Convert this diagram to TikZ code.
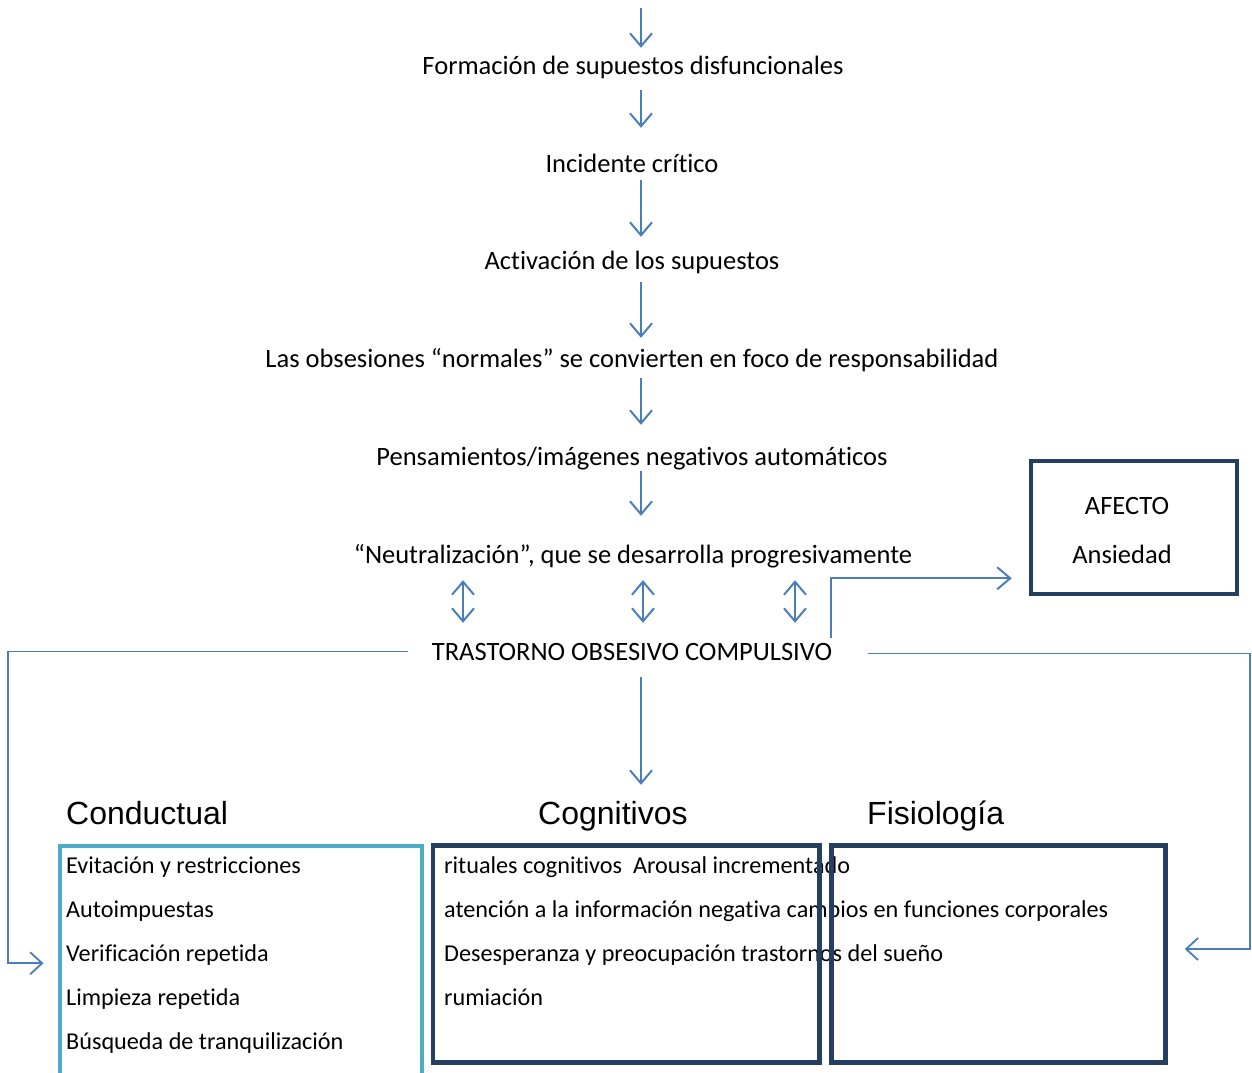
\documentclass[tikz,border=0pt]{standalone}
\usepackage{fontspec}
\setmainfont{Carlito}[Ligatures=NoCommon]
\newfontfamily\headfont{Liberation Sans}
\usetikzlibrary{arrows.meta,calc}
\definecolor{arrblue}{HTML}{4A7EBB}
\definecolor{navy}{HTML}{243F60}
\definecolor{cyanb}{HTML}{4BACC6}
\begin{document}
\begin{tikzpicture}[x=1pt,y=-1pt,
  every node/.style={inner sep=0pt, font=\fontsize{26.5}{32}\selectfont},
  flow/.style={anchor=base, text height=19pt, text depth=6pt},
  item/.style={anchor=base west, font=\fontsize{24.2}{29}\selectfont},
  head/.style={anchor=base west, text height=24pt, text depth=7pt, font=\headfont\fontsize{32}{38}\selectfont},
  arr/.style={draw=arrblue, line width=2pt, -{Straight Barb[length=13pt,width=22pt]}},
  darr/.style={draw=arrblue, line width=2pt, {Straight Barb[length=13pt,width=22pt]}-{Straight Barb[length=13pt,width=22pt]}},
  thinarr/.style={draw=arrblue, line width=1.8pt, -{Straight Barb[length=12pt,width=22pt]}},
  navybox/.style={draw=navy, line width=4.5pt},
  cyanbox/.style={draw=cyanb, line width=4pt}
]
\useasboundingbox (0,0) rectangle (1252,1072);
\coordinate (ax) at (641,0);
\coordinate (top) at (641,8);
\coordinate (lc) at (8,0);
\coordinate (rc) at (1250,0);

% flow texts
\node[flow] (n0) at (633,74) {Formación de supuestos disfuncionales};
\node[flow] (n1) at (632,172) {Incidente crítico};
\node[flow] (n2) at (632,269) {Activación de los supuestos};
\node[flow] (n3) at (632,367) {Las obsesiones “normales” se convierten en foco de responsabilidad};
\node[flow] (n4) at (632,465) {Pensamientos/imágenes negativos automáticos};
\node[flow] (n5) at (633,563) {“Neutralización”, que se desarrolla progresivamente};
\node[flow] (toc) at (632,660) {TRASTORNO OBSESIVO COMPULSIVO};

% flow arrows
\draw[arr, shorten >=7pt] (top) -- (n0.north -| ax);
\draw[arr, shorten <=10pt, shorten >=25pt] (n0.south -| ax) -- (n1.north -| ax);
\draw[arr, shorten <=2pt, shorten >=13pt] (n1.south -| ax) -- (n2.north -| ax);
\draw[arr, shorten <=7pt, shorten >=10pt] (n2.south -| ax) -- (n3.north -| ax);
\draw[arr, shorten <=5pt, shorten >=21pt] (n3.south -| ax) -- (n4.north -| ax);
\draw[arr, shorten >=28pt] (n4.south -| ax) -- (n5.north -| ax);

% double arrows
\draw[darr, shorten <=11pt, shorten >=18pt] (n5.south -| 463,0) -- (toc.north -| 463,0);
\draw[darr, shorten <=11pt, shorten >=18pt] (n5.south -| 643,0) -- (toc.north -| 643,0);
\draw[darr, shorten <=11pt, shorten >=18pt] (n5.south -| 795,0) -- (toc.north -| 795,0);

% afecto box
\node (affa) [anchor=base] at (1127,514) {AFECTO};
\node (affb) [anchor=base] at (1122,563) {Ansiedad};
\node[navybox, minimum width=206pt, minimum height=133pt] (aff) at (1134,527.5) {};
\draw[arr] ($(toc.north east)+(-1,-3)$) |- ($(aff.south west)+(-17,-18)$);

% headings
\node[head] (ch) at (66,824) {Conductual};
\node[head] (gh) at (538,824) {Cognitivos};
\node[head] (fh) at (867,824) {Fisiología};
\draw[arr, shorten <=11pt, shorten >=15pt] (toc.south -| ax) -- (gh.north -| ax);

% box texts
\node[item] (c1) at (66,873) {Evitación y restricciones};
\node[item] (c2) at (66,917) {Autoimpuestas};
\node[item] (c3) at (66,961) {Verificación repetida};
\node[item] (c4) at (66,1005) {Limpieza repetida};
\node[item] (c5) at (66,1049) {Búsqueda de tranquilización};
\node[item] (g1) at (444,873) {rituales cognitivos\ \ Arousal incrementado};
\node[item] (g2) at (444,917) {atención a la información negativa cambios en funciones corporales};
\node[item] (g3) at (444,961) {Desesperanza y preocupación trastornos del sueño};
\node[item] (g4) at (444,1005) {rumiación};

% boxes
\node[cyanbox, minimum width=362.5pt, minimum height=239.5pt] (cbox) at (240.75,965.25) {};
\node[navybox, minimum width=386.5pt, minimum height=217pt] (gbox) at (626.25,954) {};
\node[navybox, minimum width=334pt, minimum height=217pt] (fbox) at (998.5,954) {};

% side connectors
\draw[thinarr] ($(toc.west)+(-24,-2)$) coordinate (ls) -- (ls -| lc) |- ($(cbox.west)+(-14,-2)$);
\draw[thinarr] ($(toc.east)+(36,0)$) coordinate (rs) -- (rs -| rc) |- ($(fbox.east)+(17,-5)$);
\end{tikzpicture}
\end{document}
